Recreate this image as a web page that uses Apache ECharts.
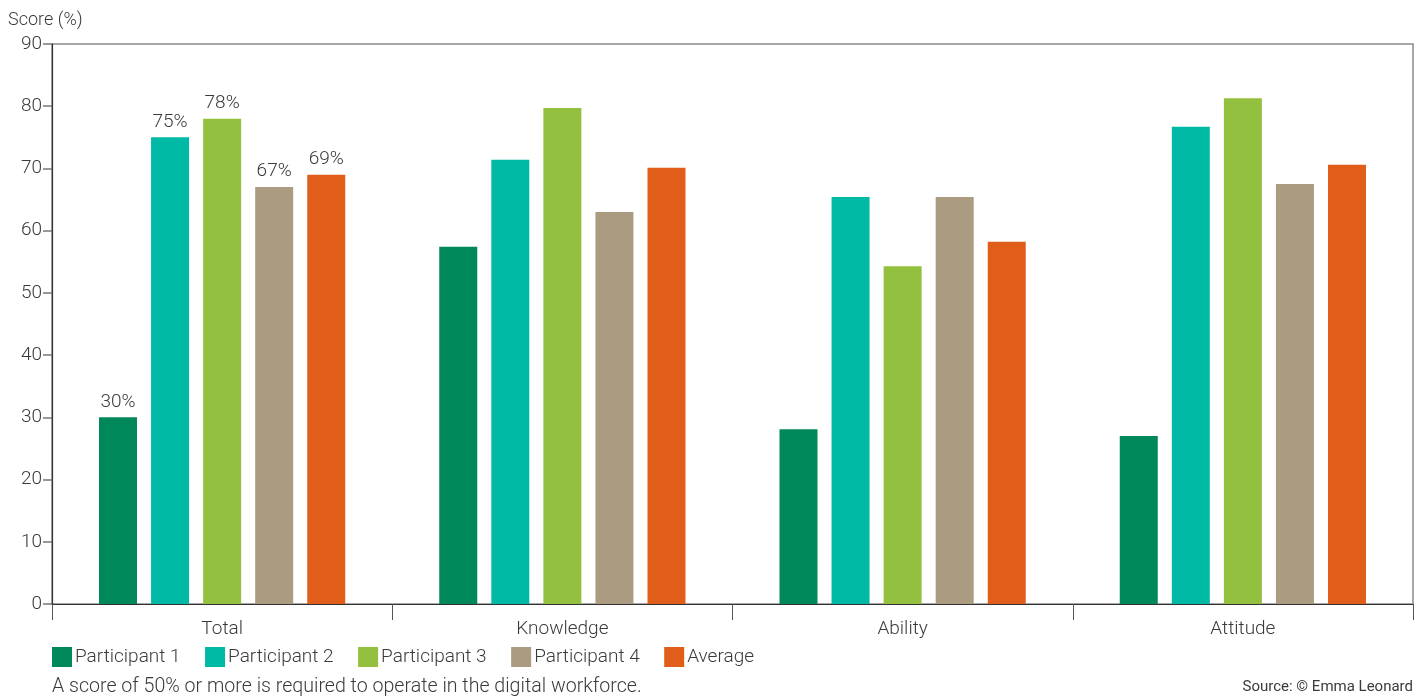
<!DOCTYPE html>
<html>
<head>
<meta charset="utf-8">
<script src="https://cdn.jsdelivr.net/npm/echarts@6/dist/echarts.min.js"></script>
<style>
  html, body { margin: 0; padding: 0; background: #fff; }
  #chart { width: 1422px; height: 700px; }
</style>
</head>
<body>
<div id="chart"></div>
<script>
// Score categories along the x axis
const categories = ['Total', 'Knowledge', 'Ability', 'Attitude'];

// Scores (%) per participant, in category order
const participant1 = [30, 57.4, 28.1, 27.0];
const participant2 = [75, 71.4, 65.4, 76.7];
const participant3 = [78, 79.7, 54.3, 81.3];
const participant4 = [67, 63.0, 65.4, 67.5];
const average      = [69, 70.1, 58.2, 70.6];

// Y axis ticks
const yTicks = [0, 10, 20, 30, 40, 50, 60, 70, 80, 90];

const seriesNames = ['Participant 1', 'Participant 2', 'Participant 3', 'Participant 4', 'Average'];
const seriesValues = [participant1, participant2, participant3, participant4, average];
const seriesColors = ['#00875a', '#00baa6', '#93c13f', '#ab9b80', '#e15e1a'];

const FONT = 'Roboto, "Liberation Sans", sans-serif';
const WEIGHT = 300;
const TEXT = '#3a3a3a';

const chart = echarts.init(document.getElementById('chart'), null, { renderer: 'canvas' });

// Only the "Total" group carries value labels
const series = seriesNames.map((name, i) => ({
  name,
  type: 'bar',
  barWidth: 38,
  barGap: '37%',
  itemStyle: { color: seriesColors[i] },
  data: seriesValues[i].map((v, j) => j === 0
    ? { value: v, label: { show: true } }
    : v),
  label: {
    show: false,
    position: 'top',
    distance: 6,
    formatter: '{c}%',
    fontFamily: FONT,
    fontWeight: WEIGHT,
    fontSize: 19,
    color: TEXT
  }
}));

chart.setOption({
  animation: false,
  backgroundColor: '#ffffff',
  grid: {
    left: 52, right: 9, top: 44, bottom: 96,
    show: true,
    borderColor: '#8a8a8a',
    borderWidth: 1.5,
    containLabel: false
  },
  legend: {
    left: 47,
    top: 642,
    itemWidth: 20,
    itemHeight: 20,
    itemGap: 24.5,
    icon: 'rect',
    data: seriesNames,
    textStyle: { fontFamily: FONT, fontWeight: WEIGHT, fontSize: 19, color: TEXT, padding: [0, 0, 0, -2] }
  },
  xAxis: {
    type: 'category',
    data: categories,
    axisLine: { show: true, lineStyle: { color: '#333333', width: 1.2 } },
    axisTick: { show: true, length: 16, lineStyle: { color: '#555555' } },
    axisLabel: { fontFamily: FONT, fontWeight: WEIGHT, fontSize: 19, color: TEXT, margin: 16 },
    splitLine: { show: false }
  },
  yAxis: {
    type: 'value',
    min: yTicks[0],
    max: yTicks[yTicks.length - 1],
    interval: 10,
    axisLine: { show: true, lineStyle: { color: '#333333', width: 1.2 } },
    axisTick: { show: true, length: 9, lineStyle: { color: '#777777', width: 1.5 } },
    axisLabel: { fontFamily: FONT, fontWeight: WEIGHT, fontSize: 19, color: TEXT, margin: 10 },
    splitLine: { show: false }
  },
  graphic: [
    {
      type: 'text', left: 8, top: 11,
      style: { text: 'Score (%)', font: WEIGHT + ' 18px ' + FONT, fill: TEXT }
    },
    {
      type: 'text', left: 52, top: 677,
      style: { text: 'A score of 50% or more is required to operate in the digital workforce.', font: WEIGHT + ' 19.6px ' + FONT, fill: TEXT }
    },
    {
      type: 'text', right: 9, top: 680,
      style: { text: 'Source: \u00a9 Emma Leonard', font: '15px ' + FONT, fill: TEXT }
    }
  ],
  series
});
</script>
</body>
</html>
